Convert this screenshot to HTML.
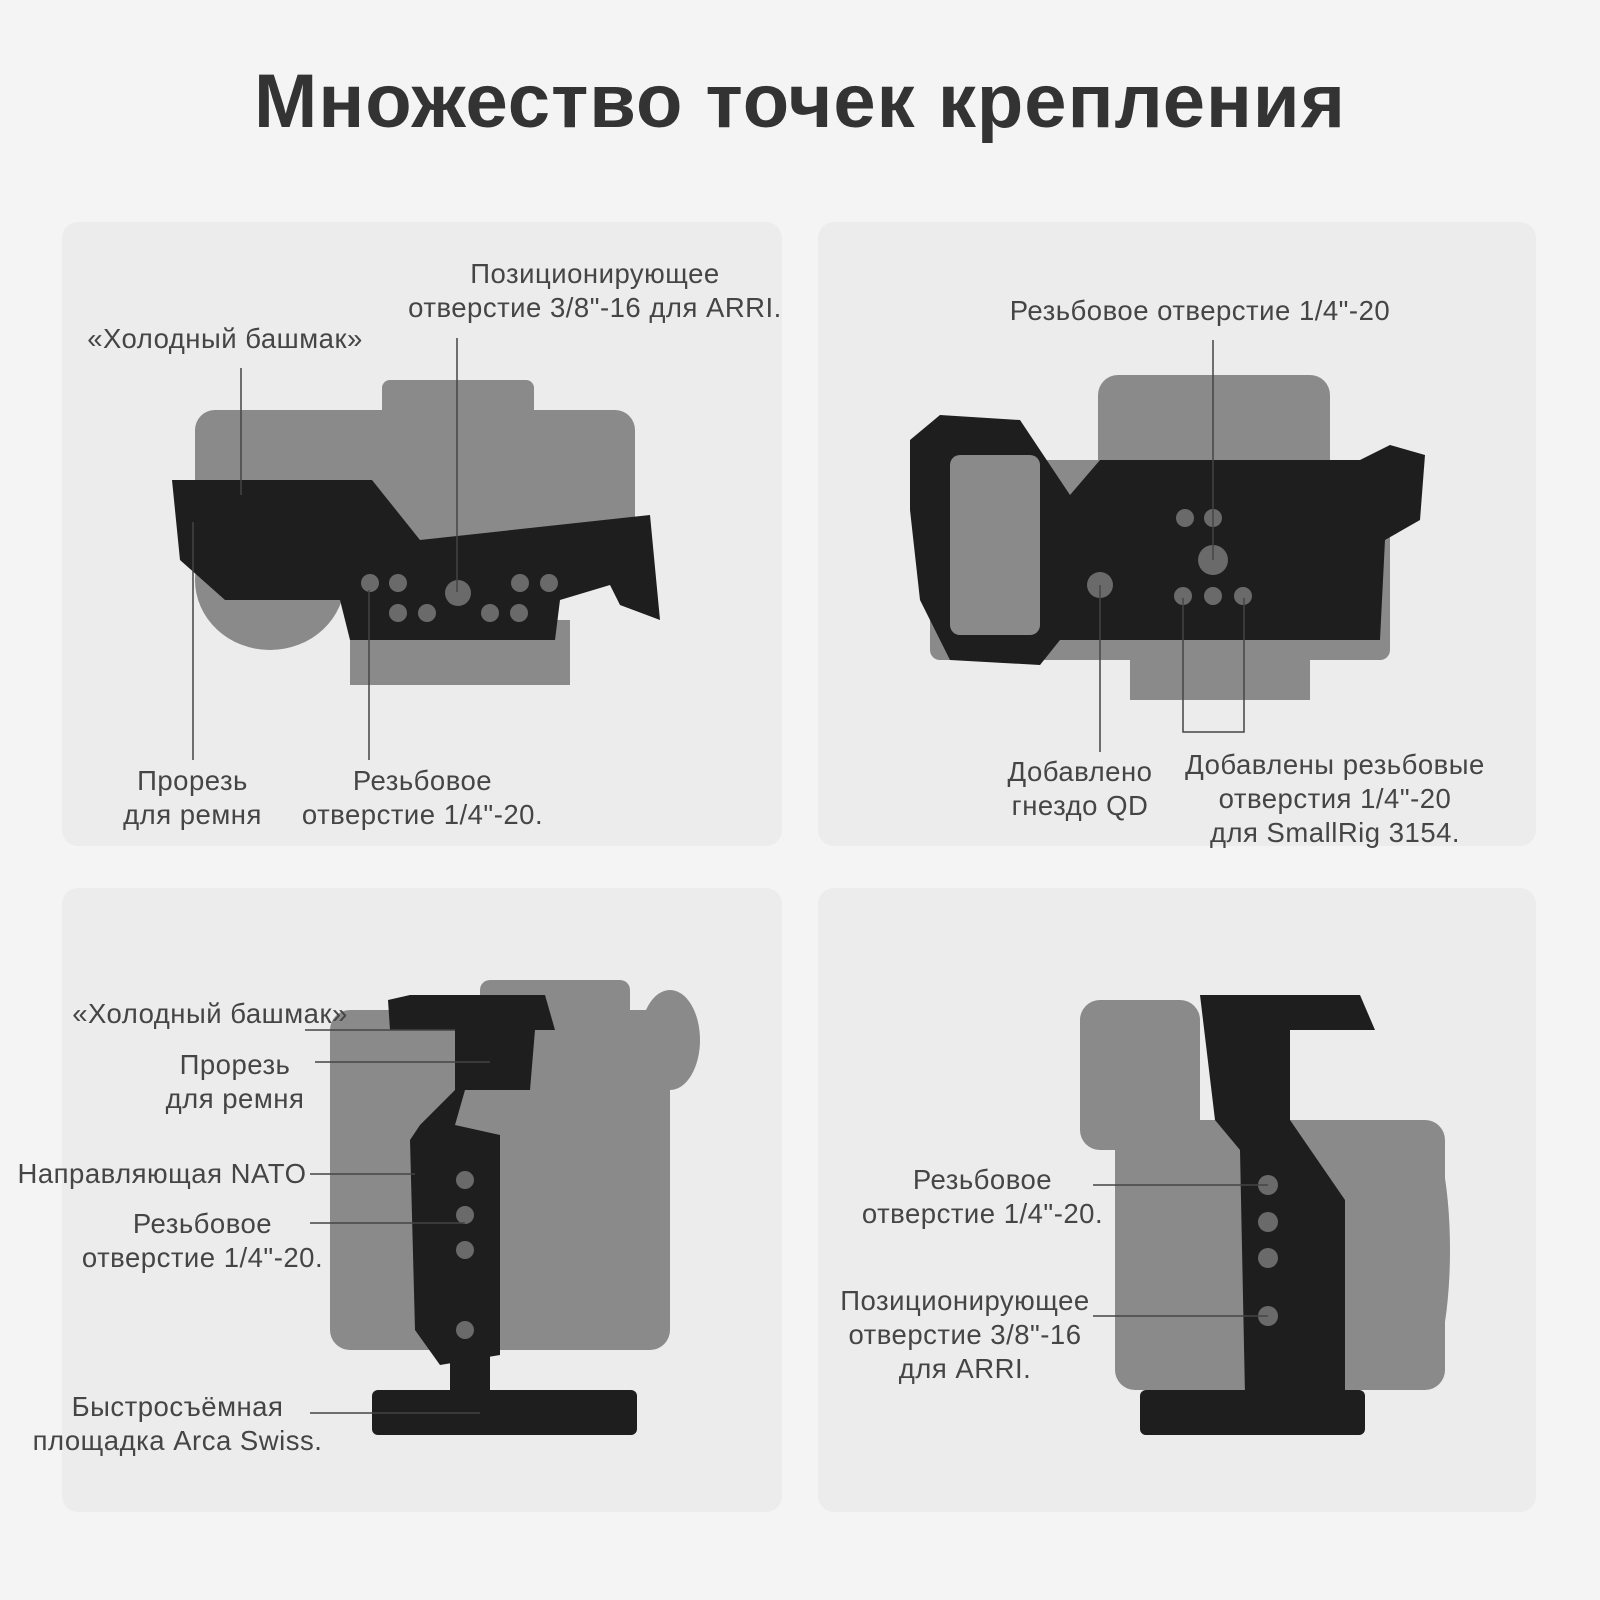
<!DOCTYPE html>
<html><head><meta charset="utf-8"><style>
html,body{margin:0;padding:0;background:#f4f4f4;width:1600px;height:1600px;overflow:hidden}
.t{position:absolute;font-family:"Liberation Sans","DejaVu Sans",sans-serif;color:#454545;font-size:27.5px;line-height:34px;text-align:center;white-space:nowrap;letter-spacing:0.5px}
h1{position:absolute;left:0;top:58px;width:1600px;margin:0;text-align:center;font-family:"Liberation Sans",sans-serif;font-weight:bold;font-size:76px;color:#333;letter-spacing:1px}
</style></head><body>
<h1>Множество точек крепления</h1>
<svg width="1600" height="1600" style="position:absolute;left:0;top:0">
<g fill="#ececec">
<rect x="62" y="222" width="720" height="624" rx="16"/>
<rect x="818" y="222" width="718" height="624" rx="16"/>
<rect x="62" y="888" width="720" height="624" rx="16"/>
<rect x="818" y="888" width="718" height="624" rx="16"/>
</g>
<g fill="#8a8a8a">
<rect x="195" y="410" width="440" height="150" rx="20"/>
<rect x="382" y="380" width="152" height="50" rx="8"/>
<rect x="350" y="620" width="220" height="65"/>
<ellipse cx="270" cy="580" rx="75" ry="70"/>
</g>
<path d="M172 480 L372 480 L420 540 L650 515 L660 620 L620 605 L610 585 L560 600 L555 640 L350 640 L340 600 L225 600 L180 560 Z" fill="#1e1e1e"/>
<g fill="#6a6a6a"><circle cx="370" cy="583" r="9"/><circle cx="398" cy="583" r="9"/><circle cx="458" cy="593" r="13"/><circle cx="520" cy="583" r="9"/><circle cx="549" cy="583" r="9"/><circle cx="398" cy="613" r="9"/><circle cx="427" cy="613" r="9"/><circle cx="490" cy="613" r="9"/><circle cx="519" cy="613" r="9"/></g>
<g fill="#8a8a8a">
<rect x="1098" y="375" width="232" height="130" rx="20"/>
<rect x="930" y="460" width="460" height="200" rx="10"/>
<rect x="1130" y="650" width="180" height="50"/>
</g>
<path d="M910 440 L940 415 L1020 420 L1070 495 L1100 460 L1360 460 L1390 445 L1425 455 L1420 520 L1385 540 L1380 640 L1060 640 L1040 665 L950 660 L920 600 L910 510 Z" fill="#1e1e1e"/>
<rect x="950" y="455" width="90" height="180" rx="10" fill="#8a8a8a"/>
<g fill="#6a6a6a"><circle cx="1185" cy="518" r="9"/><circle cx="1213" cy="518" r="9"/><circle cx="1213" cy="560" r="15"/><circle cx="1183" cy="596" r="9"/><circle cx="1213" cy="596" r="9"/><circle cx="1243" cy="596" r="9"/><circle cx="1100" cy="585" r="13"/></g>
<g fill="#8a8a8a">
<rect x="330" y="1010" width="340" height="340" rx="20"/>
<rect x="480" y="980" width="150" height="60" rx="10"/>
<ellipse cx="670" cy="1040" rx="30" ry="50"/>
</g>
<g fill="#1e1e1e">
<path d="M388 1000 L410 995 L545 995 L555 1030 L535 1030 L530 1090 L465 1090 L455 1125 L500 1135 L500 1355 L440 1365 L415 1330 L410 1140 L420 1125 L455 1090 L455 1030 L390 1030 Z"/>
<rect x="372" y="1390" width="265" height="45" rx="6"/>
<rect x="450" y="1355" width="40" height="40"/>
</g>
<g fill="#6a6a6a"><circle cx="465" cy="1180" r="9"/><circle cx="465" cy="1215" r="9"/><circle cx="465" cy="1250" r="9"/><circle cx="465" cy="1330" r="9"/></g>
<g fill="#8a8a8a">
<rect x="1115" y="1120" width="330" height="270" rx="20"/>
<rect x="1080" y="1000" width="120" height="150" rx="20"/>
<ellipse cx="1420" cy="1250" rx="30" ry="130"/>
</g>
<g fill="#1e1e1e">
<path d="M1200 995 L1360 995 L1375 1030 L1290 1030 L1290 1120 L1345 1200 L1345 1390 L1245 1395 L1240 1150 L1215 1120 Z"/>
<rect x="1140" y="1390" width="225" height="45" rx="6"/>
</g>
<g fill="#6a6a6a"><circle cx="1268" cy="1185" r="10"/><circle cx="1268" cy="1222" r="10"/><circle cx="1268" cy="1258" r="10"/><circle cx="1268" cy="1316" r="10"/></g>
<g stroke="#444" stroke-width="1.5" fill="none">
<line x1="241" y1="368" x2="241" y2="495"/>
<line x1="457" y1="338" x2="457" y2="592"/>
<line x1="193" y1="522" x2="193" y2="760"/>
<line x1="369" y1="590" x2="369" y2="760"/>
<line x1="1213" y1="340" x2="1213" y2="560"/>
<line x1="1100" y1="585" x2="1100" y2="752"/>
<polyline points="1183,598 1183,732 1244,732 1244,598"/>
<line x1="305" y1="1030" x2="455" y2="1030"/>
<line x1="315" y1="1062" x2="490" y2="1062"/>
<line x1="310" y1="1174" x2="415" y2="1174"/>
<line x1="310" y1="1223" x2="465" y2="1223"/>
<line x1="310" y1="1413" x2="480" y2="1413"/>
<line x1="1093" y1="1185" x2="1268" y2="1185"/>
<line x1="1093" y1="1316" x2="1268" y2="1316"/>
</g>
</svg>
<div class="t" style="left:395px;top:257px;width:400px">Позиционирующее<br>отверстие 3/8"-16 для ARRI.</div>
<div class="t" style="left:75px;top:322px;width:300px">«Холодный башмак»</div>
<div class="t" style="left:100px;top:764px;width:185px">Прорезь<br>для ремня</div>
<div class="t" style="left:285px;top:764px;width:275px">Резьбовое<br>отверстие 1/4"-20.</div>
<div class="t" style="left:980px;top:294px;width:440px">Резьбовое отверстие 1/4"-20</div>
<div class="t" style="left:995px;top:755px;width:170px">Добавлено<br>гнездо QD</div>
<div class="t" style="left:1170px;top:748px;width:330px">Добавлены резьбовые<br>отверстия 1/4"-20<br>для SmallRig 3154.</div>
<div class="t" style="left:55px;top:997px;width:310px">«Холодный башмак»</div>
<div class="t" style="left:140px;top:1048px;width:190px">Прорезь<br>для ремня</div>
<div class="t" style="left:12px;top:1157px;width:300px">Направляющая NATO</div>
<div class="t" style="left:65px;top:1207px;width:275px">Резьбовое<br>отверстие 1/4"-20.</div>
<div class="t" style="left:25px;top:1390px;width:305px">Быстросъёмная<br>площадка Arca Swiss.</div>
<div class="t" style="left:845px;top:1163px;width:275px">Резьбовое<br>отверстие 1/4"-20.</div>
<div class="t" style="left:825px;top:1284px;width:280px">Позиционирующее<br>отверстие 3/8"-16<br>для ARRI.</div>
</body></html>
